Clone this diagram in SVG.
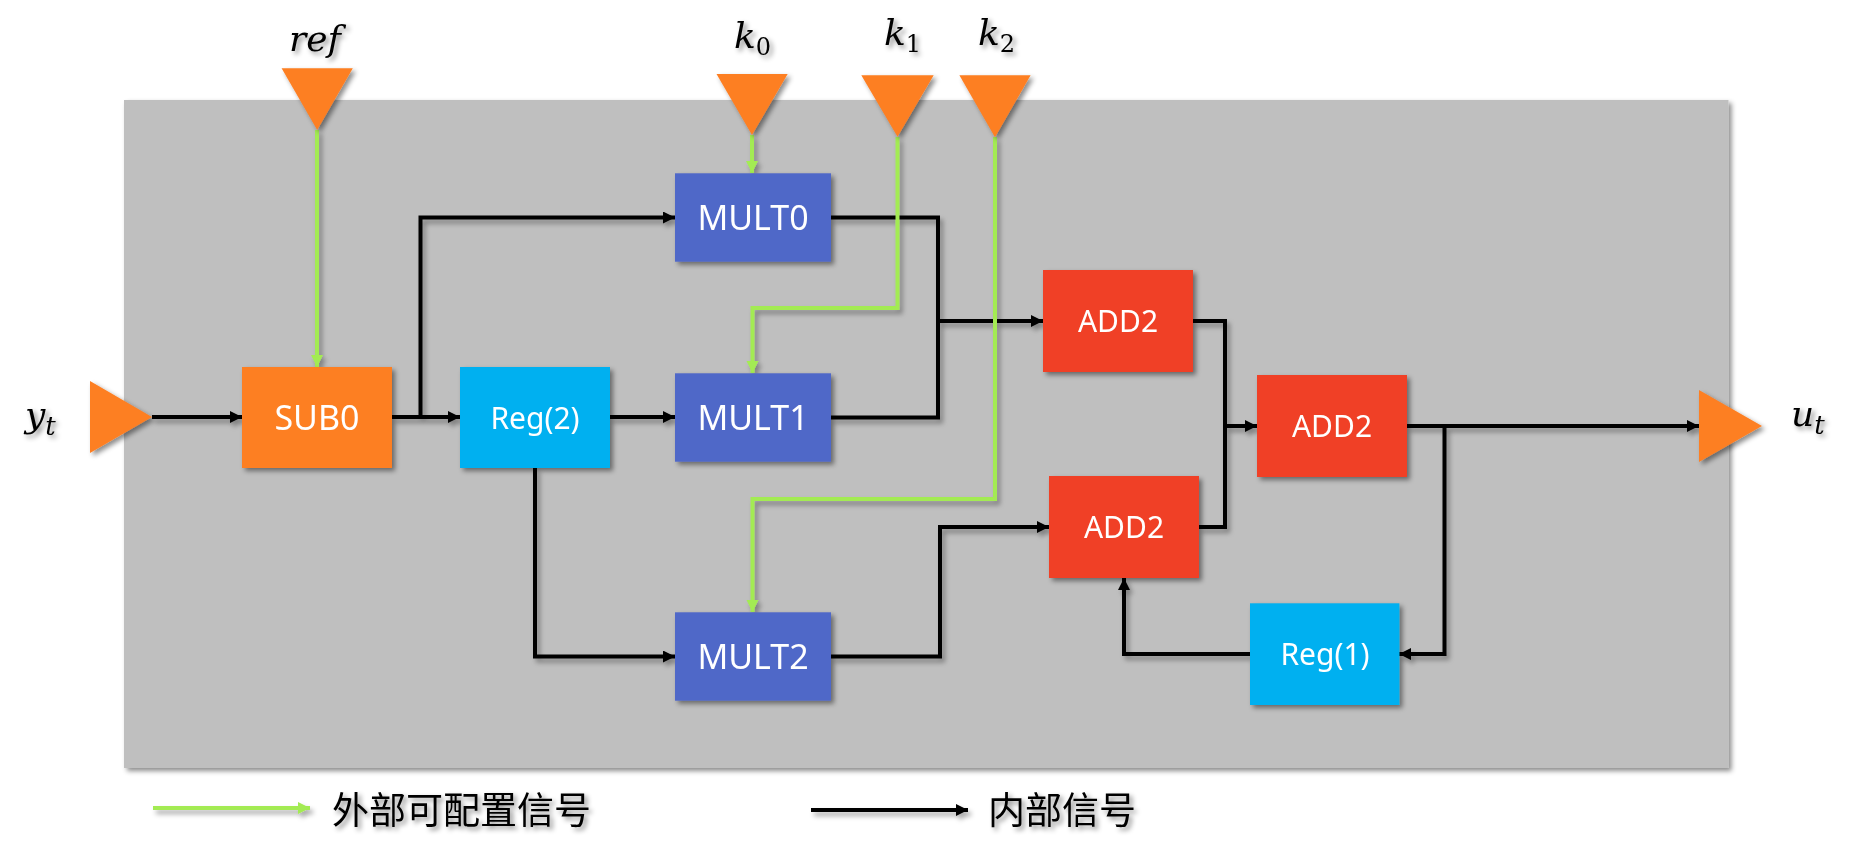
<svg xmlns="http://www.w3.org/2000/svg" width="1861" height="866" viewBox="0 0 1861 866">
<defs>
<filter id="sh" x="-20%" y="-20%" width="150%" height="150%">
<feDropShadow dx="3" dy="3" stdDeviation="2.5" flood-color="#000" flood-opacity="0.45"/>
</filter>
<filter id="shl" x="-20%" y="-20%" width="150%" height="150%">
<feDropShadow dx="3" dy="4" stdDeviation="2.5" flood-color="#000" flood-opacity="0.35"/>
</filter>
<marker id="ab" viewBox="0 0 12 12" refX="12" refY="6" markerWidth="12" markerHeight="12" markerUnits="userSpaceOnUse" orient="auto">
<path d="M0,0 L12,6 L0,12 Z" fill="#000"/>
</marker>
<marker id="ag" viewBox="0 0 12 12" refX="12" refY="6" markerWidth="12" markerHeight="13" markerUnits="userSpaceOnUse" orient="auto">
<path d="M0,0 L12,6 L0,12 Z" fill="#A3EB52"/>
</marker>
</defs>
<style>
.blk{fill:none;stroke:#000;stroke-width:4;stroke-linejoin:miter}
.grn{fill:none;stroke:#A3EB52;stroke-width:4;stroke-linejoin:miter}
.lbl{font-family:"Noto Sans","Liberation Sans",sans-serif;fill:#fff;text-anchor:middle}
.math{font-family:"DejaVu Serif","Liberation Serif",serif;font-style:italic;fill:#000}
.cjk{font-family:"Noto Sans CJK SC","Noto Sans",sans-serif;fill:#000;font-size:37px}
.tri{fill:#FD7F23}
.sub{fill:#FD7F23}
.reg{fill:#00B0F0}
.mul{fill:#4F67C8}
.add{fill:#F04125}
</style>
<rect width="1861" height="866" fill="#fff"/>
<rect id="frame" x="124" y="100" width="1604.5" height="668" fill="#BFBFBF" filter="url(#sh)"/>

<g id="connectors" filter="url(#shl)">
<path class="blk" d="M152,417 H242" marker-end="url(#ab)"/>
<path class="blk" d="M392,417 H460" marker-end="url(#ab)"/>
<path class="blk" d="M420.5,417 V217.5 H675" marker-end="url(#ab)"/>
<path class="blk" d="M610,417 H675" marker-end="url(#ab)"/>
<path class="blk" d="M535,468 V656.5 H675" marker-end="url(#ab)"/>
<path class="blk" d="M831,217.5 H938 V417.5 H831"/>
<path class="blk" d="M938,321 H1043" marker-end="url(#ab)"/>
<path class="blk" d="M831,656.5 H940 V527 H1049" marker-end="url(#ab)"/>
<path class="blk" d="M1193,321 H1225 V527 H1199"/>
<path class="blk" d="M1225,426 H1257" marker-end="url(#ab)"/>
<path class="blk" d="M1407,426 H1699" marker-end="url(#ab)"/>
<path class="blk" d="M1444.5,426 V654 H1399" marker-end="url(#ab)"/>
<path class="blk" d="M1250,654 H1124 V578" marker-end="url(#ab)"/>
<path class="grn" d="M317,130 V367" marker-end="url(#ag)"/>
<path class="grn" d="M752,135 V173" marker-end="url(#ag)"/>
<path class="grn" d="M897.5,137 V308 H752.5 V373" marker-end="url(#ag)"/>
<path class="grn" d="M995,137 V499 H752.5 V612" marker-end="url(#ag)"/>
<path class="grn" d="M153,808 H310" marker-end="url(#ag)"/>
<path class="blk" d="M811,810 H968" marker-end="url(#ab)"/>
</g>

<g id="in_ref" filter="url(#sh)">
<polygon class="tri" points="281.6,68.3 352.8,68.3 317.2,130"/>
<text class="math" x="289" y="51" font-size="36">ref</text>
</g>
<g id="in_k0" filter="url(#sh)">
<polygon class="tri" points="716.5,74 787.7,74 752,135"/>
<text class="math" x="734" y="48" font-size="36">k<tspan font-size="24" font-style="normal" dy="7">0</tspan></text>
</g>
<g id="in_k1" filter="url(#sh)">
<polygon class="tri" points="861.3,75.3 933.7,75.3 897.5,136.7"/>
<text class="math" x="884" y="45" font-size="36">k<tspan font-size="24" font-style="normal" dy="7">1</tspan></text>
</g>
<g id="in_k2" filter="url(#sh)">
<polygon class="tri" points="959.4,75.3 1030.6,75.3 995,137.3"/>
<text class="math" x="978" y="45" font-size="36">k<tspan font-size="24" font-style="normal" dy="7">2</tspan></text>
</g>
<g id="in_y" filter="url(#sh)">
<polygon class="tri" points="90,381 152,417 90,453"/>
<text class="math" x="25" y="427" font-size="36">y<tspan font-size="26" dy="8">t</tspan></text>
</g>
<g id="out_u" filter="url(#sh)">
<polygon class="tri" points="1699,390 1762,426 1699,462"/>
<text class="math" x="1791" y="426" font-size="36">u<tspan font-size="26" dy="8">t</tspan></text>
</g>

<g id="SUB0" filter="url(#sh)">
<rect class="sub" x="242" y="367" width="150" height="101"/>
<text class="lbl" x="317" y="429.5" font-size="34">SUB0</text>
</g>
<g id="Reg2" filter="url(#sh)">
<rect class="reg" x="460" y="367" width="150" height="101"/>
<text class="lbl" x="535" y="428.5" font-size="30">Reg(2)</text>
</g>
<g id="MULT0" filter="url(#sh)">
<rect class="mul" x="675" y="173.3" width="156" height="88.4"/>
<text class="lbl" x="753" y="229.7" font-size="34">MULT0</text>
</g>
<g id="MULT1" filter="url(#sh)">
<rect class="mul" x="675" y="373.3" width="156" height="88.4"/>
<text class="lbl" x="753" y="429.7" font-size="34">MULT1</text>
</g>
<g id="MULT2" filter="url(#sh)">
<rect class="mul" x="675" y="612.3" width="156" height="88.4"/>
<text class="lbl" x="753" y="668.7" font-size="34">MULT2</text>
</g>
<g id="ADD2a" filter="url(#sh)">
<rect class="add" x="1043" y="270" width="150" height="102"/>
<text class="lbl" x="1118" y="332" font-size="30">ADD2</text>
</g>
<g id="ADD2b" filter="url(#sh)">
<rect class="add" x="1049" y="476" width="150" height="102"/>
<text class="lbl" x="1124" y="538" font-size="30">ADD2</text>
</g>
<g id="ADD2f" filter="url(#sh)">
<rect class="add" x="1257" y="375" width="150" height="102"/>
<text class="lbl" x="1332" y="437" font-size="30">ADD2</text>
</g>
<g id="Reg1" filter="url(#sh)">
<rect class="reg" x="1250" y="603.3" width="149.4" height="101.7"/>
<text class="lbl" x="1325" y="665" font-size="30">Reg(1)</text>
</g>

<g id="legend" filter="url(#sh)">
<text class="cjk" x="332" y="824">外部可配置信号</text>
<text class="cjk" x="988" y="824">内部信号</text>
</g>
</svg>
